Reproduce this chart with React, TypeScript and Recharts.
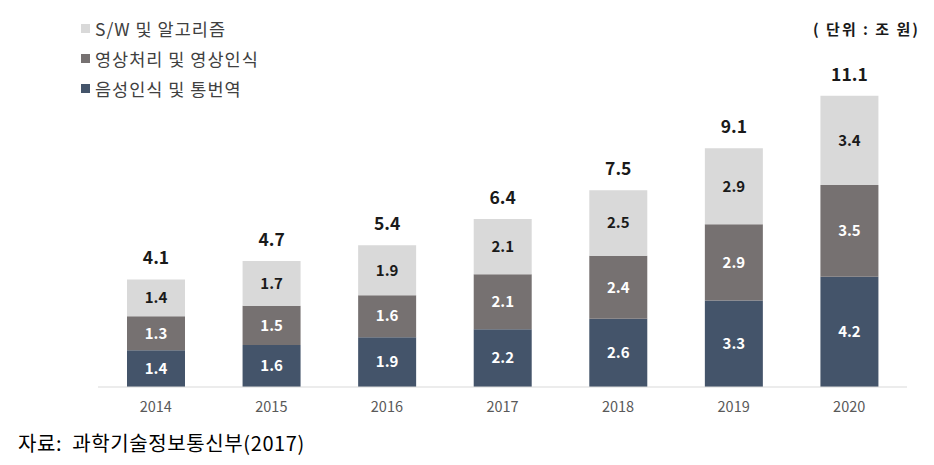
import React from "react";
import { BarChart, Bar, XAxis, YAxis, LabelList } from "recharts";

const years = ["2014", "2015", "2016", "2017", "2018", "2019", "2020"];
const speech = [1.4, 1.6, 1.9, 2.2, 2.6, 3.3, 4.2];
const image = [1.3, 1.5, 1.6, 2.1, 2.4, 2.9, 3.5];
const software = [1.4, 1.7, 1.9, 2.1, 2.5, 2.9, 3.4];
const totals = [4.1, 4.7, 5.4, 6.4, 7.5, 9.1, 11.1];

const seriesNames = ["S/W 및 알고리즘", "영상처리 및 영상인식", "음성인식 및 통번역"];
const seriesColors = ["#d9d9d9", "#767171", "#44546a"];

const data = years.map((y, i) => ({
  year: y,
  speech: speech[i],
  image: image[i],
  software: software[i],
  total: totals[i],
}));

const FONT = "'Noto Sans CJK KR', 'Noto Sans', sans-serif";

export default function App() {
  return (
    <div
      style={{
        position: "absolute",
        left: 0,
        top: 0,
        width: 934,
        height: 465,
        background: "#fff",
        fontFamily: FONT,
      }}
    >
      <BarChart
        width={934}
        height={465}
        data={data}
        margin={{ top: 72, right: 27, bottom: 48, left: 98 }}
      >
        <XAxis
          dataKey="year"
          height={30}
          axisLine={{ stroke: "#d9d9d9" }}
          tickLine={false}
          tickMargin={9}
          tick={{ fill: "#595959", fontSize: 14.5, fontFamily: FONT }}
        />
        <YAxis hide domain={[0, 12]} />
        <Bar dataKey="speech" stackId="a" fill={seriesColors[2]} barSize={58} isAnimationActive={false}>
          <LabelList
            dataKey="speech"
            position="center"
            fill="#ffffff"
            style={{ fontSize: 15, fontWeight: 700, fontFamily: FONT }}
          />
        </Bar>
        <Bar dataKey="image" stackId="a" fill={seriesColors[1]} barSize={58} isAnimationActive={false}>
          <LabelList
            dataKey="image"
            position="center"
            fill="#ffffff"
            style={{ fontSize: 15, fontWeight: 700, fontFamily: FONT }}
          />
        </Bar>
        <Bar dataKey="software" stackId="a" fill={seriesColors[0]} barSize={58} isAnimationActive={false}>
          <LabelList
            dataKey="software"
            position="center"
            fill="#1a1a1a"
            style={{ fontSize: 15, fontWeight: 700, fontFamily: FONT }}
          />
          <LabelList
            dataKey="total"
            position="top"
            offset={15}
            fill="#1a1a1a"
            style={{ fontSize: 17.5, fontWeight: 700, fontFamily: FONT }}
          />
        </Bar>
      </BarChart>
      <div style={{ position: "absolute", left: 81, top: 13 }}>
        {seriesNames.map((n, i) => (
          <div
            key={n}
            style={{
              display: "flex",
              alignItems: "center",
              height: 30,
              fontSize: 17.5,
              letterSpacing: 1,
              color: "#404040",
              whiteSpace: "nowrap",
            }}
          >
            <span
              style={{
                display: "inline-block",
                width: 9,
                height: 9,
                background: seriesColors[i],
                marginRight: 5,
              }}
            />
            <span>{n}</span>
          </div>
        ))}
      </div>
      <div
        style={{
          position: "absolute",
          left: 813,
          top: 18,
          fontSize: 15,
          fontWeight: 700,
          letterSpacing: 2,
          color: "#1a1a1a",
          whiteSpace: "nowrap",
        }}
      >
        ( 단위 : 조 원)
      </div>
      <div
        style={{
          position: "absolute",
          left: 18,
          top: 428,
          fontSize: 20,
          letterSpacing: 0.6,
          color: "#000",
          whiteSpace: "nowrap",
        }}
      >
        자료:&nbsp; 과학기술정보통신부(2017)
      </div>
    </div>
  );
}
